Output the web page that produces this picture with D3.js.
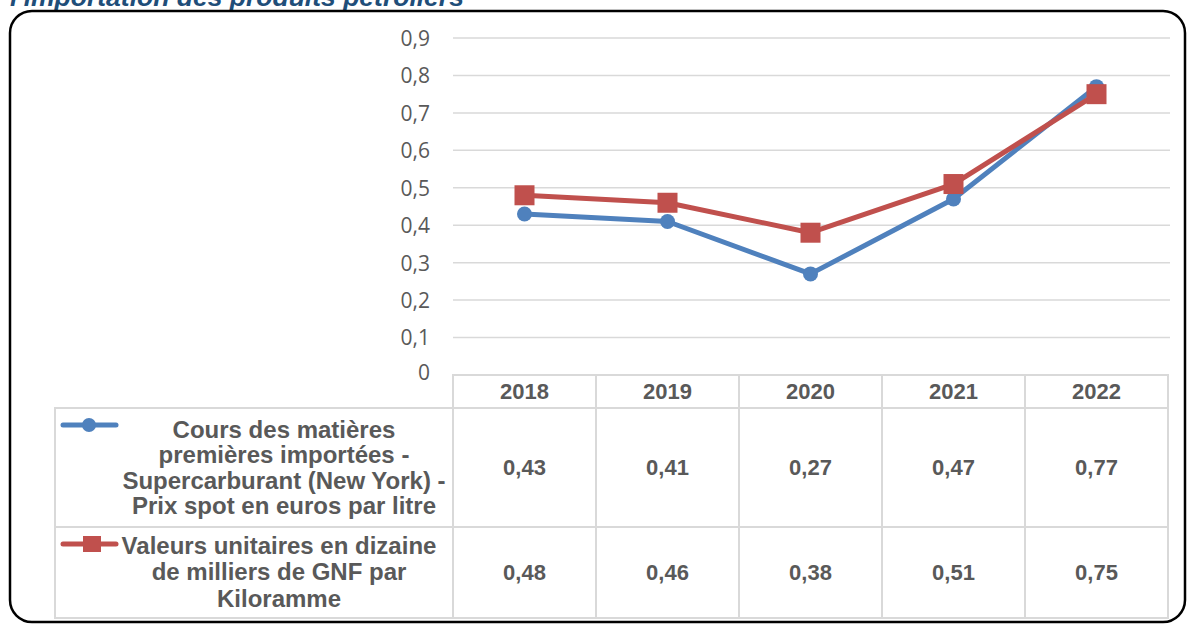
<!DOCTYPE html>
<html>
<head>
<meta charset="utf-8">
<script src="https://cdn.jsdelivr.net/npm/d3@7"></script>
<style>
  html, body { margin: 0; padding: 0; background: #ffffff; }
  svg { display: block; }
</style>
</head>
<body>
<div id="chart"></div>
<script>
// ---- data ----
const years = ["2018", "2019", "2020", "2021", "2022"];
const coursValues = [0.43, 0.41, 0.27, 0.47, 0.77];
const valeursValues = [0.48, 0.46, 0.38, 0.51, 0.75];
const coursLabelLines = ["Cours des matières", "premières importées -", "Supercarburant (New York) -", "Prix spot en euros par litre"];
const valeursLabelLines = ["Valeurs unitaires en dizaine", "de milliers de GNF par", "Kiloramme"];
const yTickValues = [0, 0.1, 0.2, 0.3, 0.4, 0.5, 0.6, 0.7, 0.8, 0.9];
const titleText = "l'importation des produits pétroliers";

// ---- layout ----
const W = 1187, H = 624;
const plotLeft = 453, plotRight = 1168, gridRight = 1170;
const plotTop = 38, plotBottom = 375;
const headerBottom = 408, row1Bottom = 527, row2Bottom = 618;
const tableLeft = 55;
const blue = "#4F81BD", red = "#C0504D", textGray = "#595959", gridGray = "#D9D9D9";

const svg = d3.select("#chart").append("svg").attr("width", W).attr("height", H);
svg.append("rect").attr("width", W).attr("height", H).attr("fill", "#fff");

// title (clipped at top, as in the reference)
svg.append("text")
  .attr("x", 10).attr("y", 6)
  .attr("font-family", "Liberation Sans, Arial, sans-serif")
  .attr("font-weight", "bold").attr("font-style", "italic")
  .attr("font-size", 26.5).attr("fill", "#1F4E79")
  .text(titleText);

// rounded frame
svg.append("rect")
  .attr("x", 10).attr("y", 11).attr("width", 1175).attr("height", 611)
  .attr("rx", 22).attr("ry", 22)
  .attr("fill", "none").attr("stroke", "#000").attr("stroke-width", 2.5);

const x = d3.scaleBand().domain(years).range([plotLeft, plotRight]);
const y = d3.scaleLinear().domain([0, 0.9]).range([plotBottom, plotTop]);
const fmt = d3.format(".2f");
const frNum = v => fmt(v).replace(".", ",");
const tickFmt = v => (v === 0 ? "0" : d3.format(".1f")(v).replace(".", ","));

// gridlines
svg.append("g").selectAll("line")
  .data(yTickValues.filter(v => v > 0))
  .join("line")
  .attr("x1", plotLeft).attr("x2", gridRight)
  .attr("y1", d => y(d)).attr("y2", d => y(d))
  .attr("stroke", gridGray).attr("stroke-width", 1.5);

// y axis labels
const yAxis = d3.axisLeft(y).tickValues(yTickValues).tickFormat(tickFmt).tickSize(0).tickPadding(0);
const yAxisG = svg.append("g").attr("transform", `translate(430,0)`).call(yAxis);
yAxisG.select(".domain").remove();
yAxisG.selectAll("text")
  .attr("font-family", "Open Sans, sans-serif")
  .attr("font-size", 21).attr("fill", textGray).attr("dy", "0.35em");
yAxisG.selectAll(".tick").filter(d => d === 0).select("text").attr("dy", "0.2em");

// ---- data table ----
const tbl = svg.append("g").attr("fill", "none").attr("stroke", gridGray).attr("stroke-width", 2);
tbl.selectAll("rect.hdr").data(years).join("rect").attr("class", "hdr")
  .attr("x", d => x(d)).attr("y", plotBottom)
  .attr("width", x.bandwidth()).attr("height", headerBottom - plotBottom);
const rows = [
  { top: headerBottom, bottom: row1Bottom, values: coursValues },
  { top: row1Bottom, bottom: row2Bottom, values: valeursValues }
];
rows.forEach(r => {
  tbl.append("rect").attr("x", tableLeft).attr("y", r.top)
    .attr("width", plotLeft - tableLeft).attr("height", r.bottom - r.top);
  tbl.selectAll(null).data(years).join("rect")
    .attr("x", d => x(d)).attr("y", r.top)
    .attr("width", x.bandwidth()).attr("height", r.bottom - r.top);
});

const boldFont = "Liberation Sans, Arial, sans-serif";
svg.append("g").selectAll("text").data(years).join("text")
  .attr("x", d => x(d) + x.bandwidth() / 2)
  .attr("y", (plotBottom + headerBottom) / 2)
  .attr("dy", "0.36em")
  .attr("text-anchor", "middle")
  .attr("font-family", boldFont).attr("font-weight", "bold")
  .attr("font-size", 22).attr("fill", textGray)
  .text(d => d);

rows.forEach(r => {
  svg.append("g").selectAll("text").data(r.values).join("text")
    .attr("x", (d, i) => x(years[i]) + x.bandwidth() / 2)
    .attr("y", (r.top + r.bottom) / 2)
    .attr("dy", "0.36em")
    .attr("text-anchor", "middle")
    .attr("font-family", boldFont).attr("font-weight", "bold")
    .attr("font-size", 22).attr("fill", textGray)
    .text(d => frNum(d));
});

function labelBlock(lines, cx, cy, lh) {
  const n = lines.length;
  svg.append("g").selectAll("text").data(lines).join("text")
    .attr("x", cx)
    .attr("y", (d, i) => cy + (i - (n - 1) / 2) * lh)
    .attr("dy", "0.36em")
    .attr("text-anchor", "middle")
    .attr("font-family", boldFont).attr("font-weight", "bold")
    .attr("font-size", 24).attr("fill", textGray)
    .text(d => d);
}
labelBlock(coursLabelLines, 284, (headerBottom + row1Bottom) / 2, 25.5);
labelBlock(valeursLabelLines, 279, (row1Bottom + row2Bottom) / 2 - 1, 26.5);

// legend keys
const key1 = svg.append("g");
key1.append("line").attr("x1", 63).attr("x2", 116).attr("y1", 425).attr("y2", 425)
  .attr("stroke", blue).attr("stroke-width", 5).attr("stroke-linecap", "round");
key1.append("circle").attr("cx", 89).attr("cy", 425).attr("r", 7).attr("fill", blue);
const key2 = svg.append("g");
key2.append("line").attr("x1", 63).attr("x2", 116).attr("y1", 544).attr("y2", 544)
  .attr("stroke", red).attr("stroke-width", 5).attr("stroke-linecap", "round");
key2.append("rect").attr("x", 83).attr("y", 536).attr("width", 18).attr("height", 16).attr("fill", red);

// ---- lines ----
const line = d3.line().x((d, i) => x(years[i]) + x.bandwidth() / 2).y(d => y(d));
svg.append("path").datum(coursValues).attr("d", line)
  .attr("fill", "none").attr("stroke", blue).attr("stroke-width", 5).attr("stroke-linejoin", "round");
svg.append("g").selectAll("circle").data(coursValues).join("circle")
  .attr("cx", (d, i) => x(years[i]) + x.bandwidth() / 2).attr("cy", d => y(d))
  .attr("r", 7.5).attr("fill", blue);

svg.append("path").datum(valeursValues).attr("d", line)
  .attr("fill", "none").attr("stroke", red).attr("stroke-width", 5).attr("stroke-linejoin", "round");
const sq = 20;
svg.append("g").selectAll("rect").data(valeursValues).join("rect")
  .attr("x", (d, i) => x(years[i]) + x.bandwidth() / 2 - sq / 2).attr("y", d => y(d) - sq / 2)
  .attr("width", sq).attr("height", sq).attr("fill", red);
</script>
</body>
</html>
